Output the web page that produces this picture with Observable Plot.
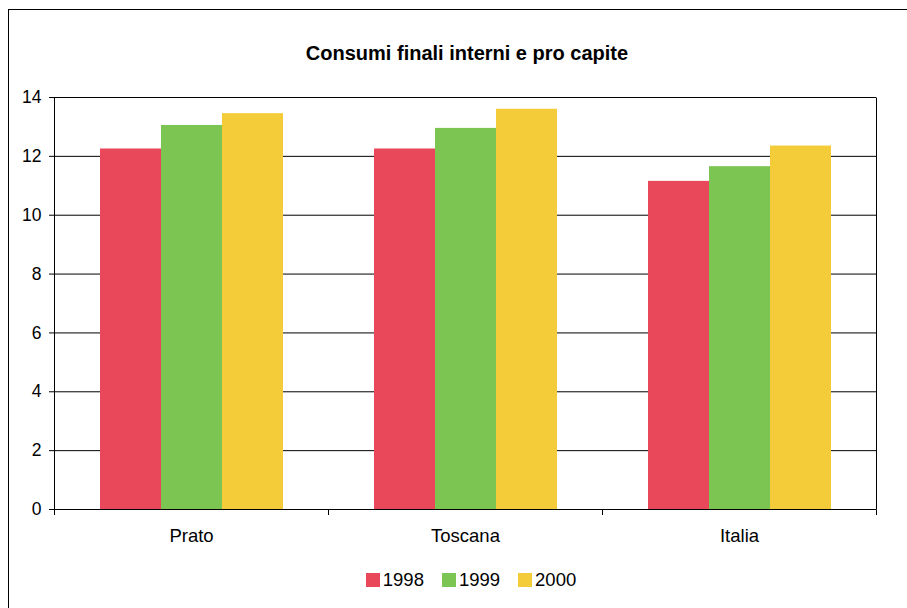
<!DOCTYPE html>
<html>
<head>
<meta charset="utf-8">
<script src="https://cdn.jsdelivr.net/npm/d3@7"></script>
<script src="https://cdn.jsdelivr.net/npm/@observablehq/plot@0.6"></script>
<style>
  body { margin: 0; background: #fff; font-family: "Liberation Sans", Arial, sans-serif; color: #000; }
  #page { position: relative; width: 907px; height: 608px; overflow: hidden; background: #fff; }
  #border { position: absolute; left: 8px; top: 9px; width: 1000px; height: 700px; border: 1px solid #000; box-sizing: border-box; }
  #title { position: absolute; top: 43px; left: 55px; width: 824px; text-align: center; font-weight: bold; font-size: 20px; line-height: 20px; }
  #chart { position: absolute; top: 80px; left: 0; }
  #legend { position: absolute; top: 571px; left: 0; width: 942px; display: flex; justify-content: center; font-size: 18.5px; line-height: 18px; }
  .item { display: flex; align-items: center; margin: 0 9px; }
  .swatch { width: 14px; height: 14px; margin-right: 3px; }
</style>
</head>
<body>
<div id="page">
  <div id="border"></div>
  <div id="title">Consumi finali interni e pro capite</div>
  <div id="chart"></div>
  <div id="legend"></div>
</div>
<script>
// Categories, series and tick values
const categories = ["Prato", "Toscana", "Italia"];
const years = ["1998", "1999", "2000"];
const values1998 = [12.25, 12.25, 11.15];
const values1999 = [13.05, 12.95, 11.65];
const values2000 = [13.45, 13.6, 12.35];
const yTicks = [0, 2, 4, 6, 8, 10, 12, 14];
const colors = ["#E8485A", "#7DC552", "#F4CB38"];

// Long-format rows for the grouped bars
const series = [values1998, values1999, values2000];
const rows = categories.flatMap((category, i) =>
  years.map((year, j) => ({category, year, value: series[j][i]}))
);

const chart = Plot.plot({
  width: 907,
  height: 470,
  marginTop: 17,
  marginBottom: 41,
  marginLeft: 53,
  marginRight: 30,
  style: {fontFamily: "'Liberation Sans', Arial, sans-serif", fontSize: "17.5px", color: "#000", background: "transparent", overflow: "visible"},
  fx: {domain: categories, padding: 0, label: null, axis: "bottom", tickSize: 0, tickPadding: 19},
  x: {domain: years, paddingInner: 0, paddingOuter: 0.74, axis: null},
  y: {domain: [0, 14], ticks: yTicks, label: null, tickSize: 5, tickPadding: 8, line: true},
  color: {domain: years, range: colors},
  marks: [
    Plot.ruleY(yTicks, {stroke: "#000", strokeWidth: 1}),
    Plot.barY(rows, {fx: "category", x: "year", y: "value", fill: "year"})
  ]
});

const svg = d3.select(chart);
// Category labels a little larger than the value labels
svg.selectAll("[aria-label^='fx-axis'] text").attr("font-size", 18.5);
svg.selectAll("[aria-label^='fx-axis']").attr("font-size", 18.5);

// Right edge of the plot area and category separator ticks on the baseline
const fx = chart.scale("fx");
const y = chart.scale("y");
const y0 = y.apply(0);
const yTop = y.apply(14);
const edges = categories.map((c) => fx.apply(c));
edges.push(fx.apply(categories[categories.length - 1]) + fx.bandwidth);
const g = svg.append("g").attr("stroke", "#000").attr("stroke-width", 1);
edges.forEach((x) => {
  g.append("line")
    .attr("x1", Math.round(x) + 0.5).attr("x2", Math.round(x) + 0.5)
    .attr("y1", Math.round(y0) + 0.5).attr("y2", Math.round(y0) + 6);
});
g.append("line")
  .attr("x1", Math.round(edges[edges.length - 1]) + 0.5).attr("x2", Math.round(edges[edges.length - 1]) + 0.5)
  .attr("y1", Math.round(yTop) + 0.5).attr("y2", Math.round(y0) + 0.5);

document.getElementById("chart").append(chart);

// Legend
const legend = document.getElementById("legend");
years.forEach((year, i) => {
  const item = document.createElement("div");
  item.className = "item";
  const sw = document.createElement("span");
  sw.className = "swatch";
  sw.style.background = colors[i];
  const label = document.createElement("span");
  label.textContent = year;
  item.append(sw, label);
  legend.append(item);
});
</script>
</body>
</html>
